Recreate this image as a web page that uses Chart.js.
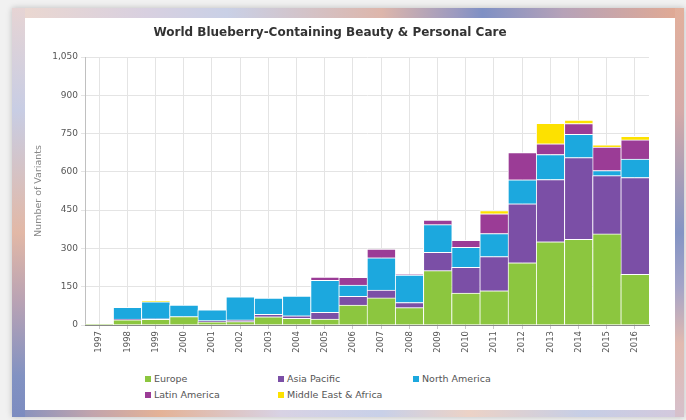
<!DOCTYPE html>
<html>
<head>
<meta charset="utf-8">
<script src="https://cdn.jsdelivr.net/npm/chart.js@4.4.1/dist/chart.umd.min.js"></script>
<style>
  html, body { margin: 0; padding: 0; }
  body { width: 686px; height: 420px; background: #f1f1f1; position: relative; overflow: hidden; font-family: "DejaVu Sans", sans-serif; }
  .frame { position: absolute; left: 12px; top: 8px; width: 672px; height: 409px; box-shadow: 0 0 6px rgba(0,0,0,0.22); }
  .band { position: absolute; }
  .band.top { left: 0; top: 0; width: 672px; height: 10px;
    background: linear-gradient(90deg, #ecd8cf 0%, #d8d0e0 20%, #c9d0e6 32%, #ddb6ab 55%, #9c9ac0 66%, #7f90c4 70%, #b6a2b8 82%, #e3aa92 100%); }
  .band.bottom { left: 0; top: 402px; width: 672px; height: 7px;
    background: linear-gradient(90deg, #8090c0 0%, #c2a4ac 12%, #e4b296 22%, #d8d2e4 40%, #c8d0e8 55%, #ecd2c6 68%, #c6cee6 85%, #d4c8dc 100%); }
  .band.left { left: 0; top: 0; width: 13px; height: 409px;
    background: linear-gradient(180deg, #e6d4d4 0%, #c8cde4 25%, #e2b8a6 55%, #b8a2b4 72%, #8292c2 90%, #7c8cc0 100%); }
  .band.right { left: 663px; top: 0; width: 9px; height: 409px;
    background: linear-gradient(180deg, #e2b09c 0%, #d6aaa8 25%, #8494c4 55%, #a4a4c8 68%, #e2bab0 82%, #d6c0cc 100%); }
  .card { position: absolute; left: 25px; top: 18px; width: 650px; height: 392px; background: #fff; }
  #chart { position: absolute; left: 11px; top: 18px; }
  .legend { position: absolute; left: 0; top: 0; }
  .legend .item { position: absolute; font-size: 9.5px; color: #555; white-space: nowrap; line-height: 12px; }
  .legend .box { position: absolute; left: -9px; top: 3px; width: 6px; height: 6px; }
</style>
</head>
<body>
<div class="frame">
  <div class="band top"></div>
  <div class="band bottom"></div>
  <div class="band left"></div>
  <div class="band right"></div>
</div>
<div class="card"></div>
<canvas id="chart" width="664" height="337"></canvas>
<div class="legend" id="legend"></div>
<script>
const years = ['1997', '1998', '1999', '2000', '2001', '2002', '2003', '2004', '2005', '2006',
               '2007', '2008', '2009', '2010', '2011', '2012', '2013', '2014', '2015', '2016'];

const europe       = [4, 20, 22, 33, 12, 13, 32, 26, 23, 78, 106, 68, 213, 125, 134, 244, 326, 336, 357, 199];
const asiaPacific  = [0, 3, 2, 0, 5, 7, 10, 10, 27, 34, 31, 20, 72, 101, 134, 231, 244, 320, 228, 379];
const northAmerica = [0, 46, 67, 45, 42, 90, 63, 77, 125, 44, 126, 108, 108, 78, 90, 94, 98, 91, 20, 72];
const latinAmerica = [0, 0, 0, 0, 0, 0, 0, 0, 13, 31, 34, 2, 18, 28, 78, 107, 42, 42, 92, 75];
const middleEastAfrica = [0, 0, 4, 0, 0, 0, 0, 0, 0, 0, 0, 0, 0, 0, 12, 0, 80, 14, 9, 14];

const seriesNames = ['Europe', 'Asia Pacific', 'North America', 'Latin America', 'Middle East & Africa'];
const seriesValues = [europe, asiaPacific, northAmerica, latinAmerica, middleEastAfrica];
const seriesColors = ['#8cc63f', '#7b4fa6', '#1ca8de', '#9b3c96', '#fde100'];

const yTicks = [0, 150, 300, 450, 600, 750, 900, 1050];

Chart.defaults.font.family = '"DejaVu Sans", sans-serif';

const chart = new Chart(document.getElementById('chart'), {
  type: 'bar',
  data: {
    labels: years,
    datasets: seriesNames.map((name, i) => ({
      label: name,
      data: seriesValues[i],
      backgroundColor: seriesColors[i],
      borderColor: '#ffffff',
      borderWidth: { top: 1, left: 1, right: 0, bottom: 0 },
      barPercentage: 1,
      categoryPercentage: 1,
    })),
  },
  options: {
    responsive: false,
    animation: false,
    layout: { padding: { left: 0, right: 26, top: 0, bottom: 0 } },
    plugins: {
      legend: { display: false },
      tooltip: { enabled: false },
      title: {
        display: true,
        text: 'World Blueberry-Containing Beauty & Personal Care',
        color: '#333',
        font: { size: 12, weight: 'bold' },
        padding: { top: 8, bottom: 16.6 },
      },
    },
    scales: {
      x: {
        stacked: true,
        grid: { offset: false, color: '#e4e4e4', tickLength: 4, tickColor: '#c8c8c8' },
        border: { color: '#888', z: 1 },
        ticks: { color: '#555', font: { size: 8.5 }, minRotation: 90, maxRotation: 90, padding: 2, autoSkip: false },
        afterFit(scale) { scale.height = 30; },
      },
      y: {
        stacked: true,
        min: 0,
        max: 1050,
        afterBuildTicks(scale) { scale.ticks = yTicks.map(v => ({ value: v })); },
        grid: { color: '#e4e4e4', tickLength: 4 },
        border: { color: '#c0c0c0' },
        ticks: { color: '#555', font: { size: 9 }, padding: 3, callback: v => v.toLocaleString('en-US') },
        title: {
          display: true,
          text: 'Number of Variants',
          color: '#888',
          font: { size: 9.5 },
          padding: { top: 22, bottom: 0 },
        },
        afterFit(scale) { scale.width = 74; },
      },
    },
  },
});

// legend laid out in three columns under the plot
const legendCols = [145, 278, 413];
const legendRows = [373, 389];
const legendEl = document.getElementById('legend');
chart.data.datasets.forEach((ds, i) => {
  const item = document.createElement('div');
  item.className = 'item';
  item.style.left = (legendCols[i % 3] + 9) + 'px';
  item.style.top = legendRows[Math.floor(i / 3)] + 'px';
  const box = document.createElement('span');
  box.className = 'box';
  box.style.background = ds.backgroundColor;
  item.appendChild(box);
  item.appendChild(document.createTextNode(ds.label));
  legendEl.appendChild(item);
});
</script>
</body>
</html>
